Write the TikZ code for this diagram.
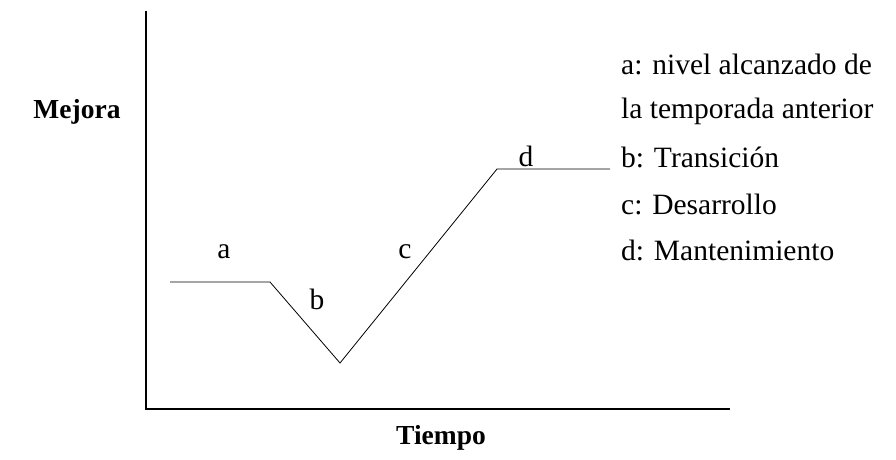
\documentclass[tikz,border=0pt]{standalone}
\usepackage{fontspec}
\setmainfont{Liberation Serif}
\usetikzlibrary{positioning}

\begin{document}
\begin{tikzpicture}[x=1pt,y=-1pt,font=\fontsize{29.5}{32}\selectfont,
  axistitle/.style={font=\fontsize{27.5}{30}\selectfont\bfseries}]
\useasboundingbox (0,0) rectangle (896,460);
% axes
\coordinate (top) at (146,11);
\coordinate (orig) at (146,409);
\coordinate (xend) at (730,409);
\draw[line width=1.2pt] (top) -- (orig) -- (xend);
\node[axistitle] (mejora) at (77,112) {Mejora};
\node[axistitle] (tiempo) at (441,438) {Tiempo};
% level curve
\coordinate (p1) at (170,282);
\coordinate (p2) at (270,282);
\coordinate (p3) at (340,363);
\coordinate (p4) at (497,169);
\coordinate (p5) at (610,169);
\draw[line width=0.8pt] (p1) -- (p2) -- (p3) -- (p4) -- (p5);
\foreach \n/\x/\y in {a/224/252,b/317/299,c/405/252,d/526/156} {\node (lab\n) at (\x,\y) {\n};}
% legend
\foreach \i/\y/\lab in {1/64/{a: nivel alcanzado de},2/111/{la temporada anterior},3/157/{b: Transición},4/204/{c: Desarrollo},5/250/{d: Mantenimiento}}
 {\node[anchor=west,inner sep=0pt] (leg\i) at (621,\y) {\lab};}
\end{tikzpicture}
\end{document}
